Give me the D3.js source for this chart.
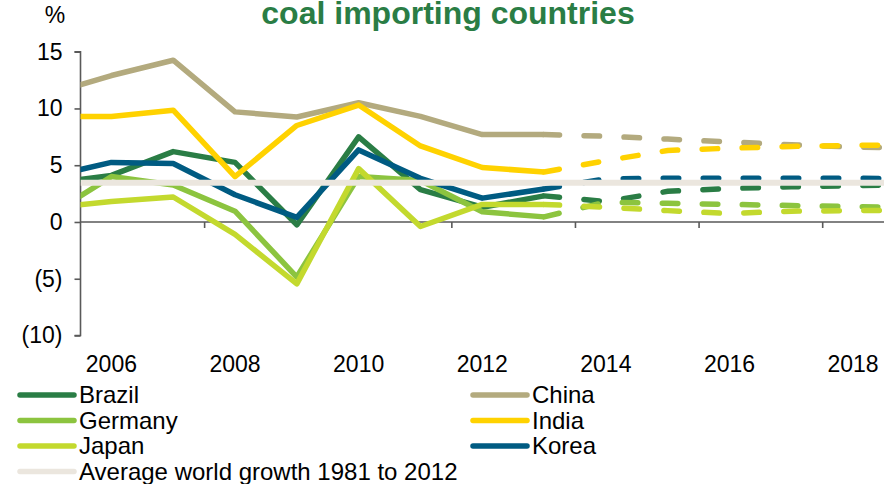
<!DOCTYPE html>
<html>
<head>
<meta charset="utf-8">
<script src="https://cdn.jsdelivr.net/npm/d3@7"></script>
<style>
  html, body { margin: 0; padding: 0; background: #ffffff; }
  svg { display: block; font-family: "Liberation Sans", Arial, sans-serif; }
</style>
</head>
<body>
<svg id="chart" width="896" height="484"></svg>
<script>
// ---------- data ----------
const years = [2005, 2006, 2007, 2008, 2009, 2010, 2011, 2012, 2013, 2014, 2015, 2016, 2017, 2018, 2019];
const lastActualYear = 2013;
const brazil  = [3.4, 4.1, 6.2, 5.25, -0.25, 7.5, 2.85, 1.3, 2.3, 1.8, 2.7, 2.95, 3.1, 3.2, 3.3];
const china   = [11.3, 12.9, 14.25, 9.7, 9.25, 10.5, 9.3, 7.7, 7.7, 7.55, 7.3, 7.05, 6.8, 6.6, 6.5];
const germany = [0.6, 4.0, 3.25, 0.95, -4.85, 4.0, 3.65, 0.9, 0.45, 1.75, 1.65, 1.55, 1.45, 1.35, 1.3];
const india   = [9.3, 9.3, 9.85, 4.0, 8.5, 10.3, 6.7, 4.8, 4.4, 5.4, 6.3, 6.5, 6.65, 6.75, 6.8];
const japan   = [1.25, 1.8, 2.2, -1.1, -5.45, 4.7, -0.4, 1.55, 1.55, 1.3, 1.0, 0.75, 0.95, 1.0, 1.05];
const korea   = [4.0, 5.25, 5.15, 2.4, 0.4, 6.35, 3.85, 2.1, 2.9, 3.8, 3.85, 3.85, 3.85, 3.85, 3.8];
const avgWorldGrowth = 3.45;

const seriesNames  = ["Brazil", "China", "Germany", "India", "Japan", "Korea"];
const seriesValues = [brazil, china, germany, india, japan, korea];
const seriesColors = ["#2a7d45", "#b3aa7e", "#8cc43f", "#ffd200", "#c3d92e", "#005b82"];
const avgName  = "Average world growth 1981 to 2012";
const avgColor = "#ebe6de";

const yTickValues = [15, 10, 5, 0, -5, -10];
const xLabelYears = [2006, 2008, 2010, 2012, 2014, 2016, 2018];
const xTickYears  = [2007.5, 2009.5, 2011.5, 2013.5, 2015.5, 2017.5];
const titleText = "coal importing countries";
const unitText = "%";

// ---------- layout ----------
const svg = d3.select("#chart");
const plot = { left: 80.5, right: 884, top: 51.7, bottom: 335.5 };
const x = d3.scaleLinear().domain([2005.5, 2018.5]).range([plot.left, plot.right]);
const y = d3.scaleLinear().domain([-10, 15]).range([plot.bottom, plot.top]);
const axisColor = "#595959";
const fontSize = 23;
const legendFontSize = 24;

// title
svg.append("text")
  .attr("x", 448).attr("y", 23.5)
  .attr("text-anchor", "middle")
  .attr("font-size", 32).attr("font-weight", "bold")
  .attr("fill", "#2a7d45")
  .text(titleText);

// unit label
svg.append("text")
  .attr("x", 55).attr("y", 23)
  .attr("text-anchor", "middle")
  .attr("font-size", fontSize).attr("fill", "#000")
  .text(unitText);

// clip
svg.append("defs").append("clipPath").attr("id", "plotclip")
  .append("rect")
  .attr("x", plot.left).attr("y", 0)
  .attr("width", plot.right - plot.left).attr("height", 484);

// y axis
const yAxis = d3.axisLeft(y)
  .tickValues(yTickValues)
  .tickSize(6)
  .tickPadding(12)
  .tickFormat(d => d < 0 ? "(" + Math.abs(d) + ")" : String(d));
const gy = svg.append("g").attr("transform", `translate(${plot.left},0)`).call(yAxis);
gy.select(".domain").attr("stroke", axisColor).attr("stroke-width", 1.6)
  .attr("d", `M-6,${y(15)}H0V${y(-10)}H-6`);
gy.selectAll(".tick line").attr("stroke", axisColor).attr("stroke-width", 1.6);
gy.selectAll(".tick text").attr("font-size", fontSize).attr("fill", "#000")
  .attr("font-family", "Liberation Sans, Arial, sans-serif");

// x axis at zero
const xAxis = d3.axisBottom(x)
  .tickValues(xTickYears)
  .tickSize(6)
  .tickFormat("");
const gx = svg.append("g").attr("transform", `translate(0,${y(0)})`).call(xAxis);
gx.select(".domain").attr("stroke", axisColor).attr("stroke-width", 1.6)
  .attr("d", `M${plot.left},0H${plot.right}`);
gx.selectAll(".tick line").attr("stroke", axisColor).attr("stroke-width", 1.6);

// x labels (low position)
svg.append("g").selectAll("text").data(xLabelYears).join("text")
  .attr("x", d => x(d)).attr("y", 372)
  .attr("text-anchor", "middle")
  .attr("font-size", fontSize).attr("fill", "#000")
  .text(d => d);

// lines
const lineGen = d3.line().x(d => x(d.year)).y(d => y(d.value));
const gLines = svg.append("g").attr("clip-path", "url(#plotclip)");
seriesValues.forEach((vals, i) => {
  const pts = years.map((yr, j) => ({ year: yr, value: vals[j] }));
  const actual = pts.filter(p => p.year <= lastActualYear);
  const forecast = pts.filter(p => p.year >= lastActualYear);
  gLines.append("path").datum(actual)
    .attr("d", lineGen)
    .attr("fill", "none").attr("stroke", seriesColors[i])
    .attr("stroke-width", 5.5).attr("stroke-linejoin", "round");
  gLines.append("path").datum(forecast)
    .attr("d", lineGen)
    .attr("fill", "none").attr("stroke", seriesColors[i])
    .attr("stroke-width", 5.5).attr("stroke-linecap", "round")
    .attr("stroke-dasharray", "15.5 24.5");
});
// average world growth line
gLines.append("line")
  .attr("x1", x(2005.5)).attr("x2", x(2018.5))
  .attr("y1", y(avgWorldGrowth)).attr("y2", y(avgWorldGrowth))
  .attr("stroke", avgColor).attr("stroke-width", 6);

// legend
const legendItems = seriesNames.map((n, i) => ({ name: n, color: seriesColors[i] }));
legendItems.push({ name: avgName, color: avgColor });
const legendPos = [
  [0, 0], [1, 0], [0, 1], [1, 1], [0, 2], [1, 2], [0, 3]
];
const colX = [20, 473];
const rowY = [395, 420.5, 446, 471.5];
const lg = svg.append("g");
legendItems.forEach((it, i) => {
  const [c, r] = legendPos[i];
  const lx = colX[c], ly = rowY[r];
  lg.append("line")
    .attr("x1", lx).attr("x2", lx + 54)
    .attr("y1", ly).attr("y2", ly)
    .attr("stroke", it.color).attr("stroke-width", 5.5)
    .attr("stroke-linecap", "round");
  lg.append("text")
    .attr("x", lx + 59).attr("y", ly + 8)
    .attr("font-size", legendFontSize).attr("fill", "#000")
    .text(it.name);
});
</script>
</body>
</html>
